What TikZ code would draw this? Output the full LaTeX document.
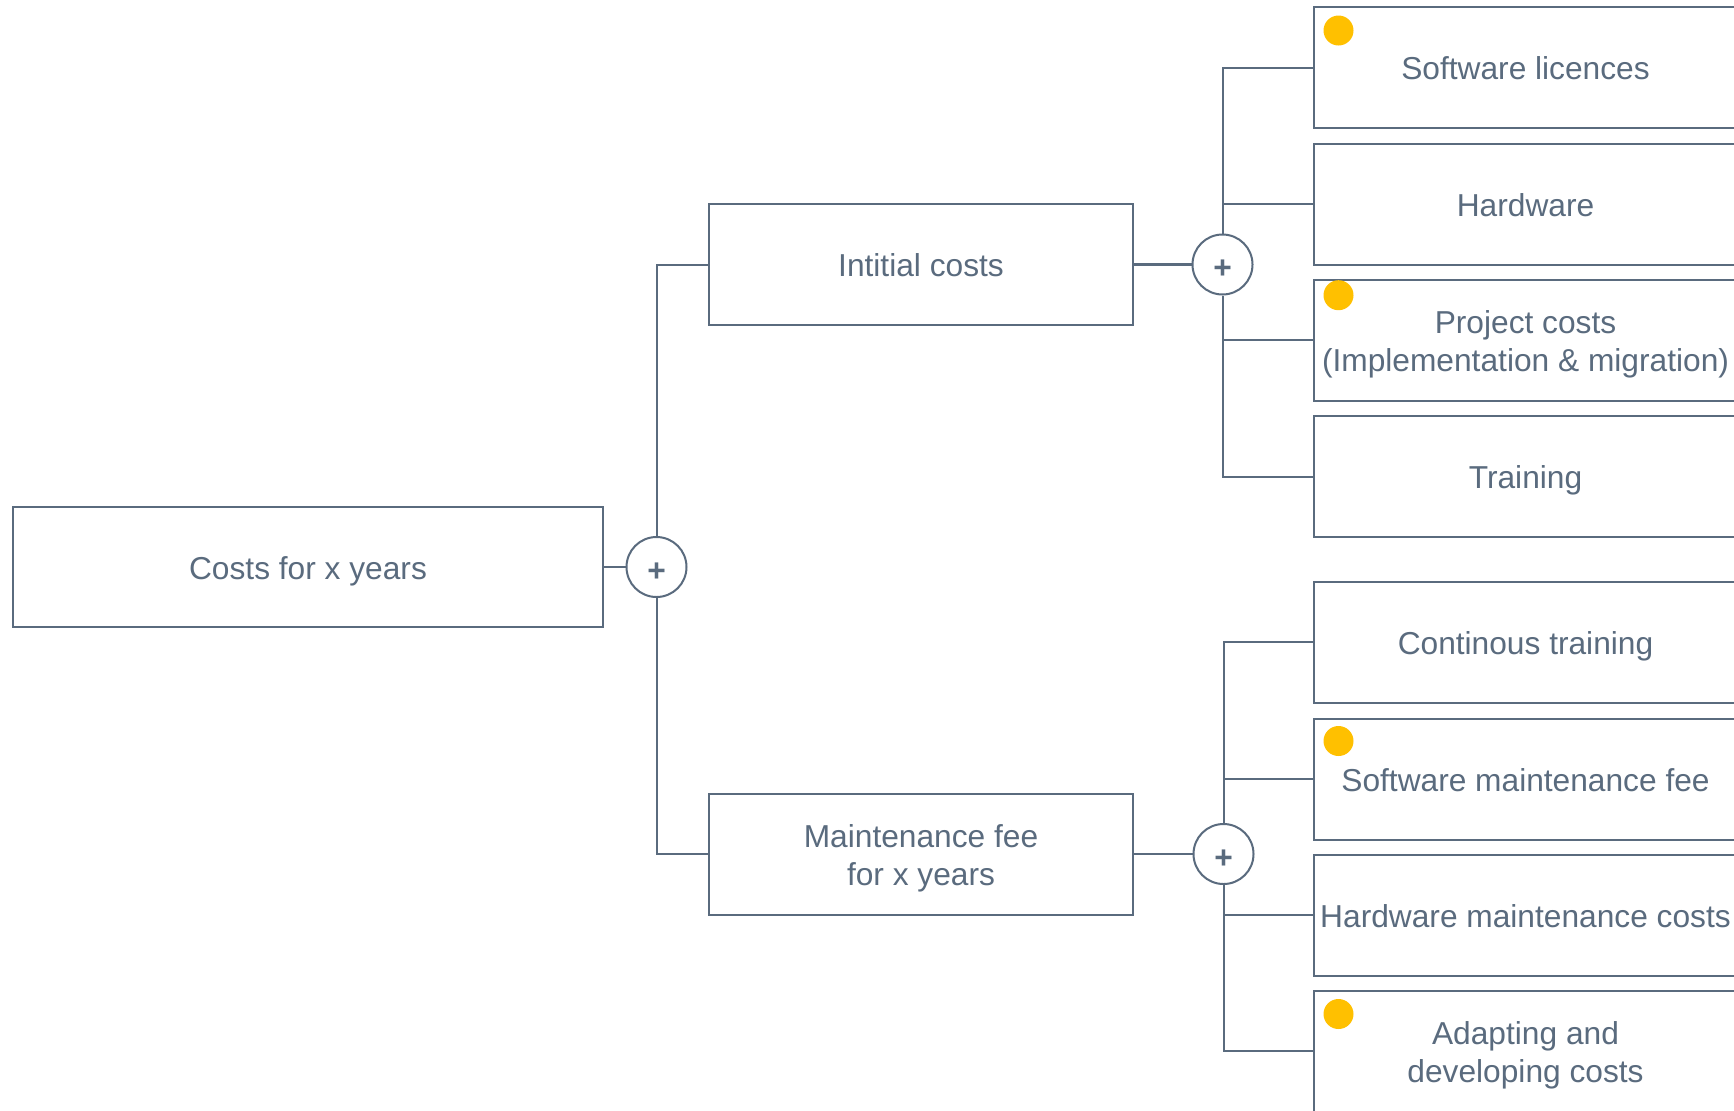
\documentclass[tikz,border=0pt]{standalone}
\usepackage{fontspec}
\setmainfont{Liberation Sans}
\definecolor{linegray}{HTML}{5A6B7E}
\definecolor{dotyellow}{HTML}{FFC000}
% every text line gets the same height and depth, so lines with and
% without descenders sit at the same place in their boxes
\newcommand\lnstrut{\rule[-3.65pt]{0pt}{19.75pt}}
\newcommand\boxfont{\fontsize{15.85}{19.2}\selectfont
  \lineskiplimit=-20pt\relax\lineskip=0pt\relax}
\begin{document}
\begin{tikzpicture}[x=0.5pt,y=-0.5pt,
  every node/.style={text=linegray, font=\boxfont},
  costbox/.style={draw=linegray, line width=1pt, fill=white, rectangle, inner sep=0pt,
    minimum width=211.5pt, minimum height=60.5pt, align=center},
  rootbox/.style={costbox, minimum width=295pt, minimum height=60pt},
  plusnode/.style={draw=linegray, line width=1pt, fill=white, circle, inner sep=0pt,
    minimum size=30pt, font=\boxfont\bfseries,
    text height=15pt, text depth=0.54pt},
  link/.style={draw=linegray, line width=1pt}
]
\clip (0,0) rectangle (1734,1110);
\fill[white] (0,0) rectangle (1734,1110);

% root and first level
\node[rootbox] (root) at (308,567) {\lnstrut Costs for x years};
\node[costbox, minimum width=212pt] (init) at (921,264.5) {\lnstrut Intitial costs};
\node[costbox, minimum width=212pt] (maint) at (921,854) {\lnstrut Maintenance fee\\\lnstrut for x years};

% leaves
\node[costbox] (b1) at (1525.5,67.5) {\lnstrut Software licences};
\node[costbox] (b2) at (1525.5,204) {\lnstrut Hardware};
\node[costbox] (b3) at (1525.5,340) {\lnstrut Project costs\\\lnstrut (Implementation \& migration)};
\node[costbox] (b4) at (1525.5,476.5) {\lnstrut Training};
\node[costbox] (b5) at (1525.5,642) {\lnstrut Continous training};
\node[costbox] (b6) at (1525.5,779) {\lnstrut Software maintenance fee};
\node[costbox] (b7) at (1525.5,915) {\lnstrut Hardware maintenance costs};
\node[costbox] (b8) at (1525.5,1051) {\lnstrut Adapting and\\\lnstrut developing costs};

% summation points
\node[plusnode] (rplus) at (656.5,567) {+};
\node[plusnode] (iplus) at (1222.5,264.5) {+};
\node[plusnode] (mplus) at (1223.5,854) {+};

% connectors
\draw[link] (root.east) -- (rplus.west);
\draw[link] (rplus.north) |- (init.west);
\draw[link] (rplus.south) |- (maint.west);

\draw[link, line width=1.5pt] (init.east) -- (iplus.west);
\draw[link] (iplus.north) |- (b1.west);
\draw[link] (iplus.north) |- (b2.west);
\draw[link] (iplus.south) |- (b3.west);
\draw[link] (iplus.south) |- (b4.west);

\draw[link] (maint.east) -- (mplus.west);
\draw[link] (mplus.north) |- (b5.west);
\draw[link] (mplus.north) |- (b6.west);
\draw[link] (mplus.south) |- (b7.west);
\draw[link] (mplus.south) |- (b8.west);

% markers
\foreach \b/\dy in {b1/24.5, b3/16.7, b6/23.5, b8/24.5}
  \fill[dotyellow] ([shift={(25.5,\dy)}]\b.north west) circle[radius=7.5pt];
\end{tikzpicture}
\end{document}
